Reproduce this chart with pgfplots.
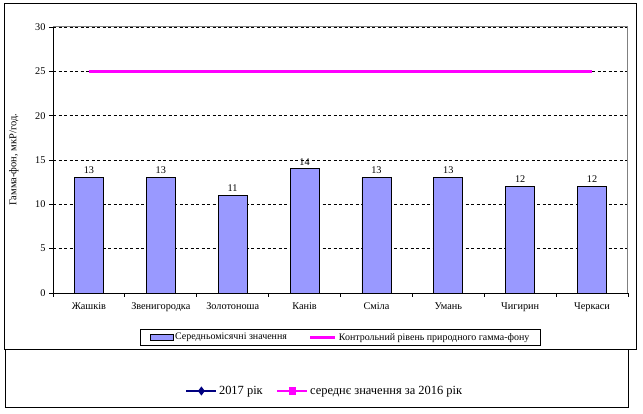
\documentclass[border=0pt]{standalone}
\usepackage{pgfplots}
\pgfplotsset{compat=1.18}
\usepackage{fontspec}
\setmainfont{Liberation Serif}
\definecolor{barcol}{RGB}{153,153,255}
\definecolor{mag}{RGB}{255,0,255}
\definecolor{navy}{RGB}{0,0,128}
\pgfplotstableread{
x val
0 13
1 13
2 11
3 14
4 13
5 13
6 12
7 12
}\bars
\pgfplotstableread{
x val
0 25
1 25
2 25
3 25
4 25
5 25
6 25
7 25
}\control
\begin{document}
\begin{tikzpicture}
\path[use as bounding box] (0bp,0bp) rectangle (643bp,414bp);
% outer frames
\draw[black, line width=0.8bp] (5bp,64bp) -- (5bp,7bp) -- (628bp,7bp) -- (628bp,64bp);
\fill[white] (4bp,64bp) rectangle (636bp,410bp);
\draw[black, line width=1bp] (4bp,64bp) rectangle (636bp,410bp);
\begin{axis}[
  at={(53bp,121bp)}, anchor=south west,
  width=575bp, height=266bp, scale only axis,
  xmin=-0.5, xmax=7.5, ymin=0, ymax=30,
  axis x line*=bottom, axis y line*=left,
  axis line style={-, black, line width=0.8bp},
  xtick={-0.5,0.5,...,7.5}, xticklabels={},
  extra x ticks={0,1,2,3,4,5,6,7},
  extra x tick labels={Жашків,Звенигородка,Золотоноша,Канів,Сміла,Умань,Чигирин,Черкаси},
  extra x tick style={major tick length=0pt, xticklabel style={yshift=-6bp}},
  ytick={0,5,10,15,20,25,30},
  tick align=outside, major tick length=4bp,
  tick style={black, line width=0.8bp},
  ymajorgrids,
  major grid style={black, line width=0.7bp, dash pattern=on 3bp off 2.5bp},
  ticklabel style={font=\fontsize{10.3}{12}\selectfont},
  /pgf/number format/assume math mode=true,
  ylabel={Гамма-фон, мкР/год.},
  ylabel style={at={(axis description cs:-0.068,0.5)}, anchor=center, font=\fontsize{10.5}{12}\selectfont},
  legend columns=2,
  legend style={at={(0.5,-0.167)}, anchor=center, draw=black, line width=0.8bp,
    font=\fontsize{10}{11}\selectfont, inner xsep=9bp, inner ysep=2bp,
    /tikz/every even column/.append style={column sep=20bp}},
]
\addplot[ybar, bar width=29bp, bar shift=0pt, fill=barcol, draw=black, line width=0.8bp,
  nodes near coords, every node near coord/.append style={font=\fontsize{10.3}{12}\selectfont, black},
  legend image code/.code={\draw[fill=barcol, draw=black, line width=0.6bp] (0bp,-3bp) rectangle (23bp,3bp);}]
  table[x=x, y=val] {\bars};
\addlegendentry{Середньомісячні значення}
\addplot[mag, line width=3bp, no marks,
  legend image code/.code={\draw[mag, line width=3bp] (0bp,0bp) -- (25bp,0bp);}]
  table[x=x, y=val] {\control};
\addlegendentry{Контрольний рівень природного гамма-фону}
\draw[gray, line width=1bp] (axis cs:-0.5,30) -- (axis cs:7.5,30) -- (axis cs:7.5,0);
\end{axis}
\begin{axis}[
  at={(0bp,0bp)}, anchor=south west,
  width=643bp, height=414bp, scale only axis,
  xmin=0, xmax=1, ymin=0, ymax=1, hide axis,
  legend columns=2,
  legend style={at={(0.5054,0.0556)}, anchor=center, draw=none, fill=none,
    font=\fontsize{12.5}{14}\selectfont,
    /tikz/every even column/.append style={column sep=12bp}},
  legend image code/.code={\draw[#1, mark repeat=2, mark phase=2] plot coordinates {(0bp,0bp) (15bp,0bp) (30bp,0bp)};},
]
\addlegendimage{navy, line width=1.3bp, mark=diamond*, mark size=3.5bp, mark options={fill=navy}}
\addlegendentry{2017 рік}
\addlegendimage{mag, line width=1.3bp, mark=square*, mark size=3bp, mark options={fill=mag}}
\addlegendentry{середнє значення за 2016 рік}
\end{axis}
\end{tikzpicture}
\end{document}
